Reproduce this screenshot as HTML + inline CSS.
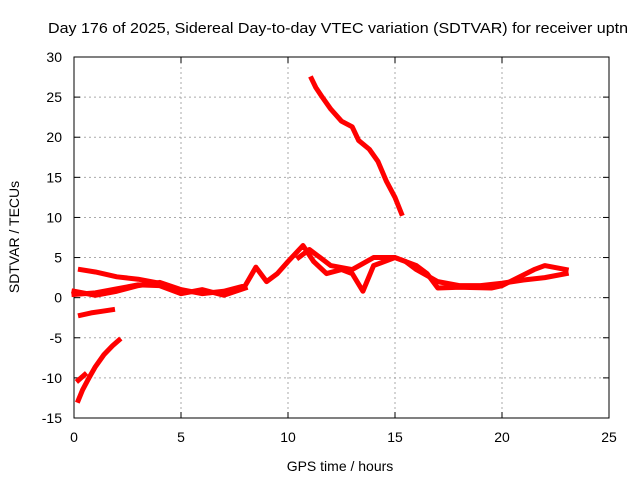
<!DOCTYPE html>
<html><head><meta charset="utf-8"><style>
body{margin:0;background:#fff}
text{font-family:"Liberation Sans",sans-serif;fill:#000}
</style></head><body>
<svg id="chart" width="640" height="480" xmlns="http://www.w3.org/2000/svg">
<rect width="640" height="480" fill="#fff"/>
<text x="48" y="33" font-size="15" textLength="580" lengthAdjust="spacingAndGlyphs">Day 176 of 2025, Sidereal Day-to-day VTEC variation (SDTVAR) for receiver uptn</text>
<g id="grid"></g>
<g id="axes"></g>
<g id="series"></g>
<text x="340" y="471" font-size="14" text-anchor="middle">GPS time / hours</text>
<text transform="translate(19,237) rotate(-90)" font-size="14" text-anchor="middle">SDTVAR / TECUs</text>
</svg>
<script>
const xTicks=[0,5,10,15,20,25];
const yTicks=[-15,-10,-5,0,5,10,15,20,25,30];
const track1=[[11.1,27.3],[11.3,26.2],[11.6,25],[12,23.5],[12.5,22],[13,21.3],[13.3,19.6],[13.8,18.5],[14.2,17],[14.6,14.5],[15,12.5],[15.3,10.5]];
const track2=[[0.2,-12.8],[0.4,-11.5],[0.7,-10],[1.0,-8.6],[1.4,-7.1],[1.8,-6],[2.1,-5.3]];
const track3=[[0.2,-10.3],[0.5,-9.6]];
const track4=[[0.3,-2.2],[0.8,-1.9],[1.3,-1.7],[1.8,-1.5]];
const track5=[[0.3,3.5],[1,3.2],[2,2.6],[3,2.3],[4,1.8]];
const track6=[[0,0.8],[1,0.3],[2,0.8],[3,1.5],[4,1.9],[5,1],[6,0.5],[7,0.8],[8,1.5],[8.5,3.8],[9,2],[9.5,3],[10,4.5],[10.7,6.5],[11.2,4.5],[11.8,3],[12.5,3.5],[13,3],[13.5,0.8],[14,4],[15,5],[15.5,4.5],[16,3.5],[17,2],[18,1.5],[19,1.5],[20,1.8],[21,2.2],[22,2.5],[23,3]];
const track7=[[10.5,5],[11,6],[11.5,5],[12,4],[13,3.5],[14,5],[15,5],[16,4],[16.5,3],[17,1.2],[18,1.3],[19.5,1.2],[20,1.5],[21.5,3.5],[22,4],[23,3.5]];
const track8=[[0,0.4],[1,0.6],[2,1.1],[3,1.6],[4,1.5],[5,0.5],[6,1],[7,0.3],[8,1.2]];
const tracks=[track1,track2,track3,track4,track5,track6,track7,track8];
const L=74,R=609,T=57,B=418;
const xs=v=>L+(v-0)/25*(R-L);
const ys=v=>B-(v+15)/45*(B-T);
const NS="http://www.w3.org/2000/svg";
function mk(tag,attrs,parent){const e=document.createElementNS(NS,tag);for(const k in attrs)e.setAttribute(k,attrs[k]);parent.appendChild(e);return e;}
const grid=document.getElementById('grid'),axes=document.getElementById('axes'),series=document.getElementById('series');
xTicks.forEach(t=>{
  const x=xs(t);
  if(t>0&&t<25){const g=mk('line',{x1:x,x2:x,y1:T,y2:B,stroke:'#aaa','stroke-dasharray':'2,3'},grid);
  
  }
  mk('line',{x1:x,x2:x,y1:B,y2:B-6,stroke:'#000'},axes);
  mk('line',{x1:x,x2:x,y1:T,y2:T+6,stroke:'#000'},axes);
  const tx=mk('text',{x:x,y:B+24,'font-size':14,'text-anchor':'middle'},axes);tx.textContent=t;
  
  
});
yTicks.forEach(t=>{
  const y=ys(t);
  if(t>-15&&t<30){const g=mk('line',{x1:L,x2:R,y1:y,y2:y,stroke:'#aaa','stroke-dasharray':'2,3'},grid);
  
  }
  mk('line',{x1:L,x2:L+6,y1:y,y2:y,stroke:'#000'},axes);
  mk('line',{x1:R,x2:R-6,y1:y,y2:y,stroke:'#000'},axes);
  const tx=mk('text',{x:L-12,y:y+5,'font-size':14,'text-anchor':'end'},axes);tx.textContent=t;
  
  
});
const fr=mk('rect',{x:L,y:T,width:R-L,height:B-T,fill:'none',stroke:'#000'},axes);


tracks.forEach(tr=>{
  const p=mk('polyline',{points:tr.map(d=>xs(d[0])+','+ys(d[1])).join(' '),fill:'none',stroke:'#f00','stroke-width':5,'stroke-linejoin':'round','stroke-linecap':'square'},series);
  
  
});
</script>
</body></html>
